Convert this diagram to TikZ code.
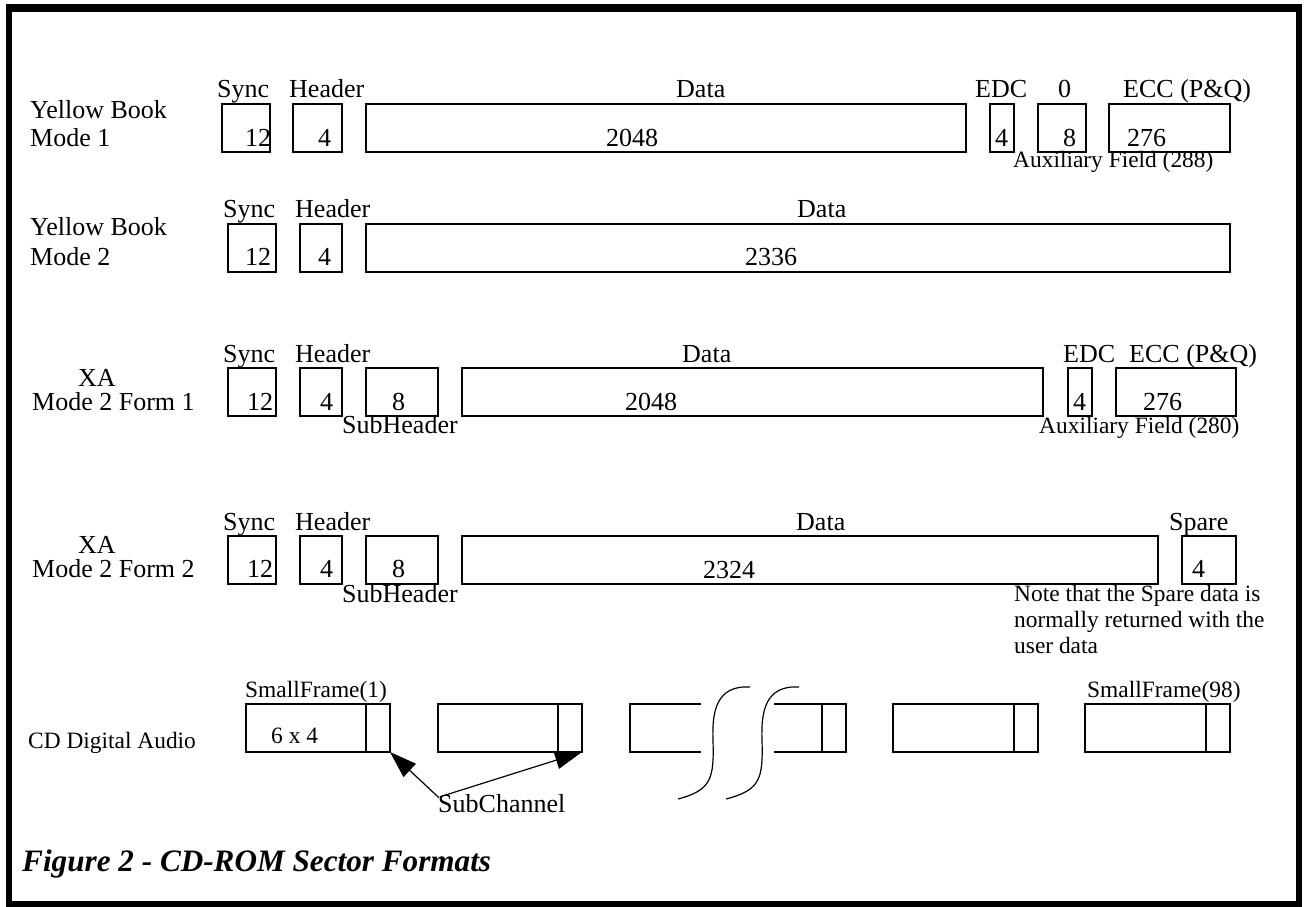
\documentclass[tikz,border=0pt]{standalone}
\usepackage{fontspec}
\setmainfont{Liberation Serif}
\usetikzlibrary{arrows.meta,calc}
\tikzset{fld/.style={draw,line width=2.2pt,minimum height=48pt,inner sep=0pt,outer sep=0pt,anchor=north west},
lbl/.style={inner sep=0pt,anchor=base west,font=\fontsize{26}{31}\selectfont},
sml/.style={inner sep=0pt,anchor=base west,font=\fontsize{23.4}{27}\selectfont},
arr/.style={-{Triangle[length=27pt,width=18pt]},line width=1.2pt},
wave/.style={line width=1.2pt}}
\begin{document}
\begin{tikzpicture}[x=1pt,y=-1pt]
\useasboundingbox(0,0)rectangle(1304,907);
\draw[line width=6pt](8.5,8)rectangle(1299,904);\draw[line width=8pt](5.5,8)--(1302,8);
% Yellow Book Mode 1
\node[lbl](t1a)at(30,118){Yellow Book};\node[lbl](t1b)at(30,146){Mode 1};
\node[fld,minimum width=48](r1s)at(222,104){};\node[fld,minimum width=49](r1h)at(293,104){};\node[fld,minimum width=600](r1d)at(366,104){};
\node[fld,minimum width=24](r1e)at(990,104){};\node[fld,minimum width=48](r1z)at(1038,104){};\node[fld,minimum width=121](r1c)at(1109,104){};
\node[lbl](l1s)at(217,98){Sync};\node[lbl](l1h)at(289,98){Header};\node[lbl](l1d)at(676,98){Data};\node[lbl](l1e)at(975,98){EDC};\node[lbl](l1z)at(1058,98){0};\node[lbl](l1c)at(1123,98){ECC (P\&Q)};
\node[lbl](n1s)at(245,146){12};\node[lbl](n1h)at(318,146){4};\node[lbl](n1d)at(606,146){2048};\node[lbl](n1e)at(995,146){4};\node[lbl](n1z)at(1063,146){8};\node[lbl](n1c)at(1127,146){276};
\node[sml](aux1)at(1013,167){Auxiliary Field (288)};
% Yellow Book Mode 2
\node[lbl](t2a)at(30,235){Yellow Book};\node[lbl](t2b)at(30,265){Mode 2};
\node[fld,minimum width=48](r2s)at(228,224){};\node[fld,minimum width=42](r2h)at(300,224){};\node[fld,minimum width=864](r2d)at(366,224){};
\node[lbl](l2s)at(223,217){Sync};\node[lbl](l2h)at(295,217){Header};\node[lbl](l2d)at(797,217){Data};
\node[lbl](n2s)at(245,265){12};\node[lbl](n2h)at(318,265){4};\node[lbl](n2d)at(745,265){2336};
% XA Mode 2 Form 1
\node[lbl](t3a)at(78,386){XA};\node[lbl](t3b)at(32,410){Mode 2 Form 1};
\node[fld,minimum width=48](r3s)at(228,368){};\node[fld,minimum width=42](r3h)at(300,368){};\node[fld,minimum width=72](r3sh)at(366,368){};
\node[fld,minimum width=581](r3d)at(462,368){};\node[fld,minimum width=24](r3e)at(1068,368){};\node[fld,minimum width=120](r3c)at(1116,368){};
\node[lbl](l3s)at(223,362){Sync};\node[lbl](l3h)at(295,362){Header};\node[lbl](l3d)at(682,362){Data};\node[lbl](l3e)at(1063,362){EDC};\node[lbl](l3c)at(1129,362){ECC (P\&Q)};
\node[lbl](n3s)at(247,410){12};\node[lbl](n3h)at(320,410){4};\node[lbl](n3sh)at(392,410){8};\node[lbl](n3d)at(625,410){2048};\node[lbl](n3e)at(1073,410){4};\node[lbl](n3c)at(1143,410){276};
\node[lbl](sh3)at(342,433){SubHeader};\node[sml](aux3)at(1039,433){Auxiliary Field (280)};
% XA Mode 2 Form 2
\node[lbl](t4a)at(78,553){XA};\node[lbl](t4b)at(32,577){Mode 2 Form 2};
\node[fld,minimum width=48](r4s)at(228,536){};\node[fld,minimum width=42](r4h)at(300,536){};\node[fld,minimum width=72](r4sh)at(366,536){};
\node[fld,minimum width=696](r4d)at(462,536){};\node[fld,minimum width=54](r4sp)at(1182,536){};
\node[lbl](l4s)at(223,530){Sync};\node[lbl](l4h)at(295,530){Header};\node[lbl](l4d)at(796,530){Data};\node[lbl](l4sp)at(1169,530){Spare};
\node[lbl](n4s)at(247,577){12};\node[lbl](n4h)at(320,577){4};\node[lbl](n4sh)at(392,577){8};\node[lbl](n4d)at(703,578){2324};\node[lbl](n4sp)at(1192,577){4};
\node[lbl](sh4)at(342,602){SubHeader};
\node[sml](nt1)at(1014,601){Note that the Spare data is};\node[sml](nt2)at(1014,627){normally returned with the};\node[sml](nt3)at(1014,653){user data};
% CD Digital Audio
\node[sml](t5)at(28,748){CD Digital Audio};
\node[sml](sf1)at(245,697){SmallFrame(1)};\node[sml](sf98)at(1087,697){SmallFrame(98)};
\node[fld,minimum width=144](b1)at(246,704){};\draw[line width=2.2pt]($(b1.north east)+(-24,0)$)--($(b1.south east)+(-24,0)$);
\node[fld,minimum width=144](b2)at(438,704){};\draw[line width=2.2pt]($(b2.north east)+(-24,0)$)--($(b2.south east)+(-24,0)$);
\node[fld,minimum width=145](b4)at(893,704){};\draw[line width=2.2pt]($(b4.north east)+(-24,0)$)--($(b4.south east)+(-24,0)$);
\node[fld,minimum width=145](b5)at(1085,704){};\draw[line width=2.2pt]($(b5.north east)+(-24,0)$)--($(b5.south east)+(-24,0)$);
\draw[line width=2.2pt](701,704)--(630,704)--(630,752)--(701,752);\draw[line width=2.2pt](774,704)--(846,704)--(846,752)--(774,752);\draw[line width=2.2pt](822,704)--(822,752);
\draw[wave](750,687)..controls(716,685)and(712,712)..(713,740)..controls(714,778)and(712,790)..(678,799);
\draw[wave](799,687)..controls(765,685)and(761,712)..(762,740)..controls(763,778)and(761,790)..(726,799);
\node[sml](n5)at(271,743){6 x 4};
\node[lbl](sc)at(438,812){SubChannel};
\draw[arr]($(sc.north west)+(1,4)$)--(b1.south east);\draw[arr]($(sc.north west)+(2,3)$)--(b2.south east);
% caption
\node[inner sep=0pt,anchor=base west,font=\fontsize{31.2}{36}\selectfont\bfseries\itshape](cap)at(22,871){Figure 2 - CD-ROM Sector Formats};
\end{tikzpicture}
\end{document}
